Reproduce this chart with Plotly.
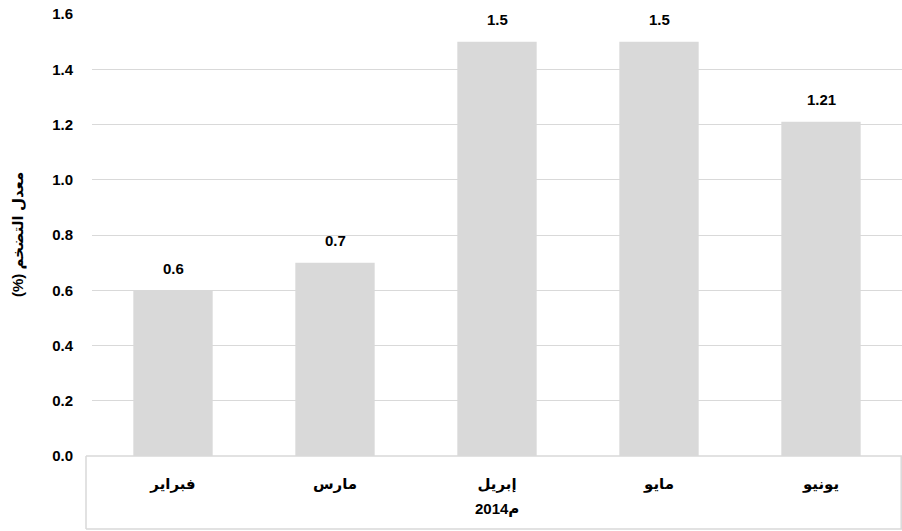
import plotly.graph_objects as go

months = ["فبراير", "مارس", "إبريل", "مايو", "يونيو"]
inflation = [0.6, 0.7, 1.5, 1.5, 1.21]
value_labels = ["0.6", "0.7", "1.5", "1.5", "1.21"]
year_label = "2014م"
y_title = "معدل التضخم (%)"
y_ticks = [0, 0.2, 0.4, 0.6, 0.8, 1.0, 1.2, 1.4, 1.6]

FONT = "Liberation Sans, DejaVu Sans, Arial, sans-serif"
GREY = "#d9d9d9"
BOLD = dict(family=FONT, size=15, color="#000000", weight="bold")

fig = go.Figure(go.Bar(
    x=months, y=inflation,
    marker=dict(color=GREY, line=dict(width=0)),
    hoverinfo="skip",
))

W, H = 902, 531
L, R, T, B = 92, 0, 14, 531 - 456
PW, PH = W - L - R, H - T - B

fig.update_layout(
    width=W, height=H,
    margin=dict(l=L, r=R, t=T, b=B),
    paper_bgcolor="white", plot_bgcolor="white",
    bargap=0.51,
    showlegend=False,
    font=BOLD,
    xaxis=dict(
        showgrid=False, showline=False, ticks="", automargin=False,
        ticklabelstandoff=17,
        tickfont=BOLD,
    ),
    yaxis=dict(
        range=[0, 1.6], tickvals=y_ticks,
        tickformat=".1f", automargin=False,
        ticklabeloverflow="allow",
        showgrid=True, gridcolor=GREY, gridwidth=1,
        zeroline=False, showline=False, ticks="",
        ticklabelstandoff=18,
        tickfont=BOLD,
    ),
)

# data labels above the bars
for m, v, t in zip(months, inflation, value_labels):
    fig.add_annotation(x=m, y=v, text=t, showarrow=False, yshift=22,
                       font=BOLD, xanchor="center", yanchor="middle")

# y axis title
fig.add_annotation(xref="paper", yref="paper", x=(18 - L) / PW, y=0.5,
                   text="\u202b" + y_title + "\u202c", textangle=-90,
                   showarrow=False, font=BOLD, xanchor="center", yanchor="middle")
# year label under the categories
fig.add_annotation(xref="paper", yref="paper", x=0.5, y=-(508 - 456) / PH,
                   text="\u202d" + year_label + "\u202c",
                   showarrow=False, font=BOLD, xanchor="center", yanchor="middle")

# Excel-style category box below the axis
box_left = (86 - L) / PW
box_bottom = -(529 - 456) / PH
line_style = dict(color=GREY, width=1.5)
fig.add_shape(type="line", xref="paper", yref="paper", x0=box_left, x1=1, y0=0, y1=0, line=line_style)
fig.add_shape(type="line", xref="paper", yref="paper", x0=box_left, x1=box_left, y0=0, y1=box_bottom, line=line_style)
fig.add_shape(type="line", xref="paper", yref="paper", x0=box_left, x1=1, y0=box_bottom, y1=box_bottom, line=line_style)
fig.add_shape(type="line", xref="paper", yref="paper", x0=0.999, x1=0.999, y0=0, y1=box_bottom, line=line_style)

fig.write_html("out.html", config={"displayModeBar": False},
               post_script="document.body.style.margin='0px';")
